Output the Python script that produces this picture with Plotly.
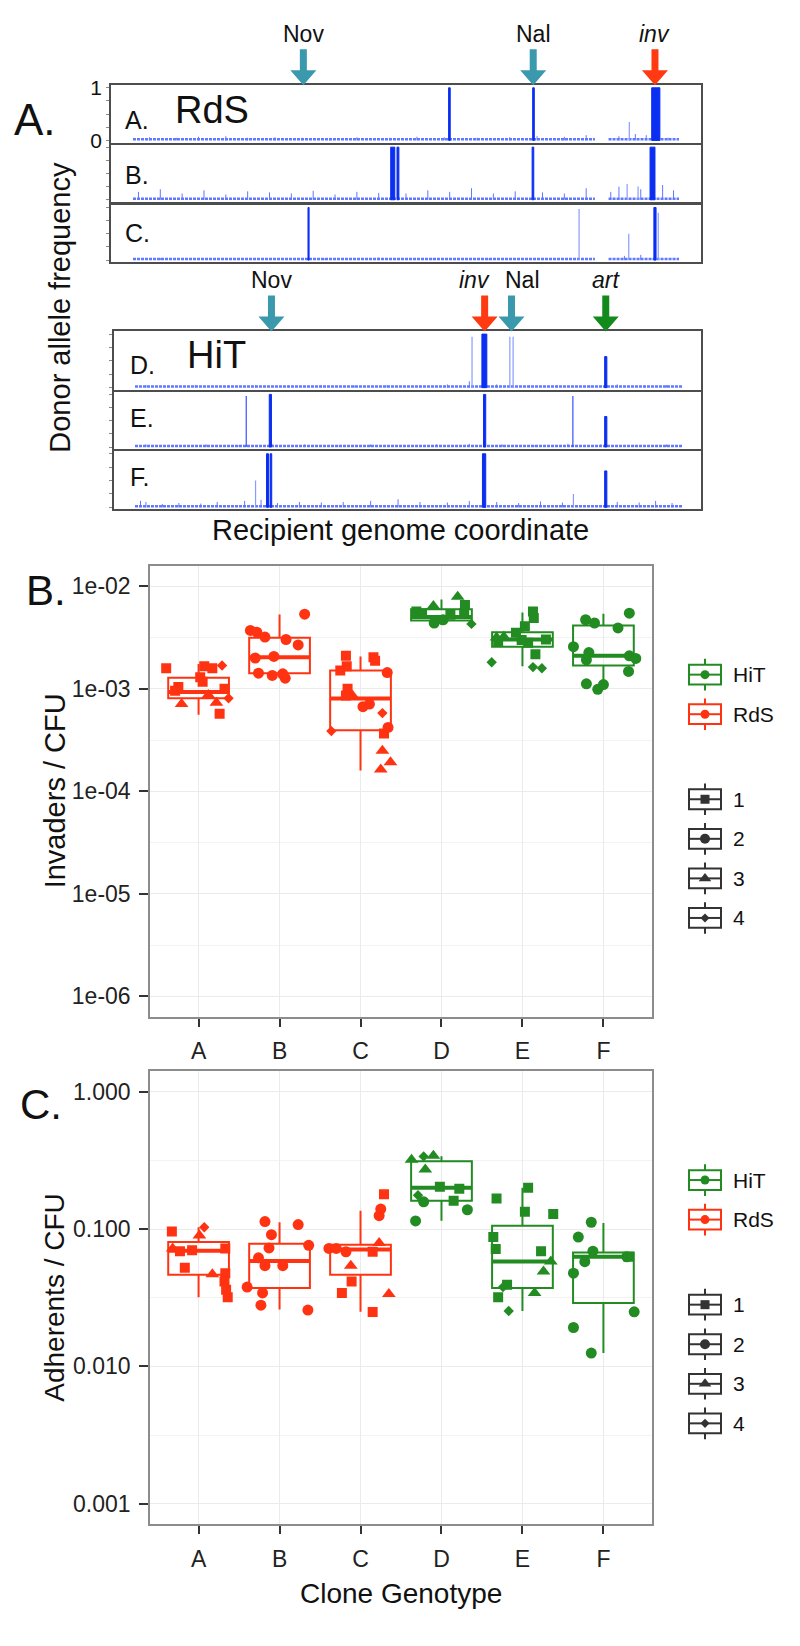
import plotly.graph_objects as go

W, H = 800, 1646
def fx(x): return x / W
def fy(y): return 1 - y / H

FONT = "Liberation Sans, Arial, sans-serif"

# ---------------- Panel A data: donor allele frequency along recipient genome (fraction) -------------
A_seg_start = [0.578, 0.732, 0.950]
A_seg_end = [0.581, 0.735, 0.965]
A_seg_freq = [1.0, 1.0, 1.0]
A_thin_pos = [0.909]
A_thin_freq = [0.35]
A_noise_pos = [0.03, 0.08, 0.12, 0.17, 0.21, 0.26, 0.31, 0.36, 0.41, 0.47, 0.52, 0.57, 0.63, 0.69, 0.74, 0.79, 0.83, 0.89, 0.92, 0.94, 0.98]
A_noise_freq = [0.06, 0.05, 0.07, 0.08, 0.05, 0.06, 0.05, 0.04, 0.06, 0.05, 0.07, 0.06, 0.05, 0.06, 0.08, 0.07, 0.10, 0.08, 0.12, 0.10, 0.05]

B_seg_start = [0.472, 0.4835, 0.731, 0.947]
B_seg_end = [0.4795, 0.487, 0.734, 0.956]
B_seg_freq = [1.0, 1.0, 1.0, 1.0]
B_thin_pos = [0.905, 0.925]
B_thin_freq = [0.30, 0.25]
B_noise_pos = [0.01, 0.05, 0.09, 0.13, 0.17, 0.21, 0.25, 0.29, 0.33, 0.37, 0.41, 0.45, 0.50, 0.54, 0.58, 0.62, 0.66, 0.70, 0.75, 0.79, 0.83, 0.875, 0.89, 0.93, 0.97, 0.99]
B_noise_freq = [0.15, 0.20, 0.12, 0.18, 0.10, 0.16, 0.14, 0.12, 0.17, 0.10, 0.15, 0.13, 0.12, 0.18, 0.15, 0.22, 0.12, 0.16, 0.14, 0.12, 0.22, 0.15, 0.25, 0.20, 0.28, 0.18]

C_seg_start = [0.3205, 0.954]
C_seg_end = [0.3225, 0.958]
C_seg_freq = [1.0, 1.0]
C_thin_pos = [0.817, 0.962, 0.908]
C_thin_freq = [0.97, 0.90, 0.50]
C_noise_pos = [0.05, 0.15, 0.25, 0.35, 0.45, 0.55, 0.65, 0.75, 0.90, 0.93]
C_noise_freq = [0.04, 0.03, 0.04, 0.03, 0.05, 0.04, 0.03, 0.04, 0.08, 0.10]

D_seg_start = [0.633, 0.857]
D_seg_end = [0.642, 0.861]
D_seg_freq = [1.0, 0.58]
D_thin_pos = [0.615, 0.684, 0.690]
D_thin_freq = [0.95, 0.95, 0.95]
D_noise_pos = [0.02, 0.06, 0.11, 0.17, 0.22, 0.28, 0.34, 0.40, 0.46, 0.52, 0.57, 0.61, 0.66, 0.72, 0.77, 0.83, 0.88, 0.93, 0.97]
D_noise_freq = [0.05, 0.04, 0.05, 0.04, 0.05, 0.04, 0.05, 0.04, 0.05, 0.04, 0.06, 0.12, 0.06, 0.05, 0.05, 0.04, 0.06, 0.04, 0.05]

E_seg_start = [0.245, 0.636, 0.857]
E_seg_end = [0.249, 0.640, 0.861]
E_seg_freq = [1.0, 1.0, 0.58]
E_thin_pos = [0.203, 0.799]
E_thin_freq = [0.97, 0.97]
E_noise_pos = [0.02, 0.07, 0.13, 0.19, 0.25, 0.31, 0.37, 0.43, 0.49, 0.55, 0.61, 0.67, 0.73, 0.79, 0.85, 0.91, 0.97]
E_noise_freq = [0.05, 0.04, 0.05, 0.04, 0.06, 0.05, 0.04, 0.05, 0.04, 0.05, 0.06, 0.05, 0.04, 0.06, 0.05, 0.04, 0.05]

F_seg_start = [0.240, 0.2465, 0.634, 0.857]
F_seg_end = [0.2435, 0.2495, 0.640, 0.861]
F_seg_freq = [1.0, 1.0, 1.0, 0.68]
F_thin_pos = [0.220, 0.800]
F_thin_freq = [0.50, 0.25]
F_noise_pos = [0.01, 0.02, 0.05, 0.08, 0.12, 0.15, 0.20, 0.23, 0.26, 0.30, 0.34, 0.38, 0.43, 0.48, 0.52, 0.57, 0.61, 0.66, 0.70, 0.74, 0.78, 0.88, 0.92, 0.95, 0.98]
F_noise_freq = [0.12, 0.10, 0.06, 0.08, 0.07, 0.10, 0.12, 0.14, 0.08, 0.10, 0.09, 0.10, 0.12, 0.15, 0.10, 0.09, 0.12, 0.10, 0.08, 0.11, 0.09, 0.10, 0.09, 0.12, 0.08]

noise_floor = 0.02
RdS_covered_start = [0.0, 0.871]
RdS_covered_end = [0.846, 1.0]
HiT_covered_start = [0.0]
HiT_covered_end = [1.0]

RdS_marker_names = ["Nov", "Nal", "<i>inv</i>"]
RdS_marker_pos = [0.312, 0.733, 0.956]
RdS_marker_kind = ["res", "res", "inv"]
HiT_marker_names = ["Nov", "<i>inv</i>", "Nal", "<i>art</i>"]
HiT_marker_pos = [0.249, 0.638, 0.687, 0.859]
HiT_marker_kind = ["res", "inv", "res", "art"]

strip_labels = ["A.", "B.", "C.", "D.", "E.", "F."]

# ---------------- Panel B data: Invaders / CFU ----------------
cats = ["A", "B", "C", "D", "E", "F"]
cat_strain = ["RdS", "RdS", "RdS", "HiT", "HiT", "HiT"]

inv_group = (["A"] * 14 + ["B"] * 12 + ["C"] * 18 + ["D"] * 10 + ["E"] * 14 + ["F"] * 13)
inv_value = [
    1.59e-3, 1.04e-3, 9.6e-4, 7.1e-4, 1.30e-3, 1.66e-3, 1.59e-3, 1.69e-3, 8.7e-4, 7.3e-4, 5.7e-4, 1.0e-3, 8.1e-4, 1.17e-3,
    3.71e-3, 3.57e-3, 3.2e-3, 2.0e-3, 2.07e-3, 3.03e-3, 2.68e-3, 5.35e-3, 1.42e-3, 1.35e-3, 1.40e-3, 1.27e-3,
    2.10e-3, 1.51e-3, 1.66e-3, 2.03e-3, 1.88e-3, 1.0e-3, 8.6e-4, 8.6e-4, 6.7e-4, 7.1e-4, 1.44e-3, 3.87e-4, 5.8e-4, 4.2e-4, 3.67e-4, 2.49e-4, 1.92e-4, 1.63e-4,
    5.68e-3, 5.47e-3, 6.43e-3, 4.39e-3, 7.91e-3, 6.58e-3, 5.47e-3, 4.30e-3, 4.72e-3, 5.27e-3,
    1.82e-3, 3.16e-3, 3.22e-3, 4.07e-3, 5.68e-3, 4.9e-3, 2.18e-3, 2.82e-3, 1.63e-3, 1.59e-3, 3.03e-3, 3.52e-3, 2.99e-3, 2.9e-3,
    4.72e-3, 4.39e-3, 5.47e-3, 3.93e-3, 2.58e-3, 2.26e-3, 1.92e-3, 2.10e-3, 1.98e-3, 1.48e-3, 1.12e-3, 9.9e-4, 1.10e-3,
]
inv_jitter = [
    -0.40, -0.25, -0.29, -0.21, 0.02, 0.07, 0.17, 0.29, 0.12, 0.22, 0.26, 0.32, 0.37, 0.05,
    -0.36, -0.28, -0.18, -0.30, -0.07, 0.08, 0.23, 0.31, -0.26, -0.09, 0.04, 0.07,
    -0.18, -0.25, -0.17, 0.16, 0.18, -0.16, -0.18, -0.10, 0.03, 0.11, 0.33, -0.36, 0.27, 0.34, 0.29, 0.27, 0.37, 0.25,
    -0.31, -0.24, -0.10, -0.09, 0.20, 0.29, 0.28, 0.37, 0.02, 0.11,
    -0.38, -0.32, -0.23, 0.03, 0.13, 0.14, 0.16, 0.07, 0.13, 0.24, 0.29, -0.08, -0.01, -0.30,
    -0.22, -0.11, 0.32, 0.18, -0.37, -0.18, -0.21, 0.32, 0.40, 0.31, -0.21, -0.07, 0.00,
]
inv_rep = [
    1, 1, 1, 3, 1, 1, 1, 4, 3, 3, 1, 1, 4, 1,
    2, 2, 2, 2, 2, 2, 2, 2, 2, 2, 2, 2,
    1, 1, 1, 1, 1, 1, 1, 3, 2, 2, 2, 4, 4, 2, 1, 3, 3, 3,
    1, 1, 3, 2, 3, 1, 1, 4, 2, 1,
    4, 3, 3, 1, 1, 1, 1, 1, 4, 4, 1, 1, 1, 1,
    2, 2, 2, 2, 2, 2, 2, 2, 2, 2, 2, 2, 2,
]
inv_q1 = [8.1e-4, 1.42e-3, 3.95e-4, 4.63e-3, 2.58e-3, 1.69e-3]
inv_median = [9.3e-4, 2.03e-3, 8.07e-4, 5.01e-3, 3.03e-3, 2.10e-3]
inv_q3 = [1.28e-3, 3.15e-3, 1.51e-3, 5.97e-3, 3.57e-3, 4.14e-3]
inv_lowerwhisker = [5.6e-4, 1.27e-3, 1.6e-4, 4.2e-3, 1.66e-3, 1.12e-3]
inv_upperwhisker = [1.75e-3, 5.3e-3, 2.07e-3, 7.45e-3, 5.55e-3, 5.4e-3]

# ---------------- Panel C data: Adherents / CFU ----------------
adh_group = (["A"] * 13 + ["B"] * 12 + ["C"] * 13 + ["D"] * 11 + ["E"] * 14 + ["F"] * 10)
adh_value = [
    0.0962, 0.1033, 0.0899, 0.0723, 0.069, 0.0703, 0.0524, 0.0469, 0.0723, 0.0478, 0.0416, 0.0362, 0.0319,
    0.1135, 0.108, 0.091, 0.073, 0.0762, 0.0618, 0.0542, 0.0542, 0.0378, 0.0343, 0.0279, 0.0257,
    0.1795, 0.140, 0.1253, 0.0723, 0.0723, 0.0792, 0.0684, 0.0684, 0.0542, 0.0416, 0.0343, 0.0337, 0.0249,
    0.3206, 0.3388, 0.3428, 0.2716, 0.1766, 0.1581, 0.2037, 0.1972, 0.1607, 0.1384, 0.1148,
    0.1671, 0.2005, 0.134, 0.1288, 0.0875, 0.0715, 0.069, 0.058, 0.0491, 0.0394, 0.0378, 0.0343, 0.0319, 0.0253,
    0.1122, 0.0875, 0.069, 0.0579, 0.0478, 0.0629, 0.025, 0.0192, 0.0125, 0.063,
]
adh_jitter = [
    -0.33, 0.07, 0.01, -0.32, -0.23, -0.08, -0.17, 0.17, 0.33, 0.33, 0.32, 0.34, 0.36,
    -0.18, 0.23, -0.10, -0.13, 0.36, -0.26, -0.18, 0.04, -0.40, -0.21, -0.23, 0.35,
    0.29, 0.25, 0.23, -0.39, -0.30, 0.23, 0.15, -0.18, -0.12, -0.11, -0.23, 0.35, 0.15,
    -0.37, -0.22, -0.10, -0.20, -0.29, -0.22, -0.02, 0.22, 0.15, 0.32, -0.32,
    -0.32, 0.07, 0.03, 0.38, -0.36, -0.33, 0.23, 0.35, 0.26, -0.19, -0.24, 0.15, -0.30, -0.17,
    -0.15, -0.31, -0.13, -0.23, -0.37, 0.29, 0.38, -0.37, -0.15, 0.31,
]
adh_rep = [
    1, 4, 3, 3, 1, 1, 1, 3, 1, 1, 1, 1, 1,
    2, 2, 2, 2, 2, 2, 2, 2, 2, 2, 2, 2,
    1, 2, 2, 2, 2, 3, 1, 2, 3, 1, 1, 3, 1,
    3, 4, 3, 3, 4, 2, 1, 1, 1, 2, 2,
    1, 1, 1, 1, 1, 1, 1, 3, 3, 1, 4, 3, 1, 4,
    2, 2, 2, 2, 2, 2, 2, 2, 2, 1,
]
adh_q1 = [0.0465, 0.0372, 0.0465, 0.161, 0.0372, 0.029]
adh_median = [0.0696, 0.0585, 0.071, 0.200, 0.058, 0.0629]
adh_q3 = [0.0806, 0.0784, 0.077, 0.312, 0.106, 0.0676]
adh_lowerwhisker = [0.0319, 0.026, 0.025, 0.115, 0.0253, 0.0125]
adh_upperwhisker = [0.103, 0.112, 0.136, 0.339, 0.200, 0.111]

# ---------------- styles ----------------
BLUE = "#0a2ef2"
BLUE_FAINT = "#8a9bff"
BLUE_NOISE = "#6178ff"
ARROW_COL = {"res": "#3a99ad", "inv": "#ff3a12", "art": "#138a1c"}
STRAIN_COL = {"RdS": "#ff3311", "HiT": "#228b22"}
REP_SYM = {1: "square", 2: "circle", 3: "triangle-up", 4: "diamond"}
REP_SIZE = {1: 10, 2: 11, 3: 12, 4: 8}

fig = go.Figure()

strips = [
    (A_seg_start, A_seg_end, A_seg_freq, A_thin_pos, A_thin_freq, A_noise_pos, A_noise_freq, RdS_covered_start, RdS_covered_end),
    (B_seg_start, B_seg_end, B_seg_freq, B_thin_pos, B_thin_freq, B_noise_pos, B_noise_freq, RdS_covered_start, RdS_covered_end),
    (C_seg_start, C_seg_end, C_seg_freq, C_thin_pos, C_thin_freq, C_noise_pos, C_noise_freq, RdS_covered_start, RdS_covered_end),
    (D_seg_start, D_seg_end, D_seg_freq, D_thin_pos, D_thin_freq, D_noise_pos, D_noise_freq, HiT_covered_start, HiT_covered_end),
    (E_seg_start, E_seg_end, E_seg_freq, E_thin_pos, E_thin_freq, E_noise_pos, E_noise_freq, HiT_covered_start, HiT_covered_end),
    (F_seg_start, F_seg_end, F_seg_freq, F_thin_pos, F_thin_freq, F_noise_pos, F_noise_freq, HiT_covered_start, HiT_covered_end),
]
strip_px = [(77, 135), (137, 195), (198, 256), (326, 385), (387, 445), (447, 506)]
strip_label_y = [112, 168, 226, 360, 414, 473]
YR = [-0.04, 1.05]

def vlines(pos, h):
    xs, ys = [], []
    for p, v in zip(pos, h):
        xs += [p, p, None]
        ys += [0, v, None]
    return xs, ys

for k, (ss, se, sf, tp, tf, npos, nf, cs, ce) in enumerate(strips):
    n = k + 1
    xa = "x" if n == 1 else f"x{n}"
    ya = "y" if n == 1 else f"y{n}"
    bx, by = [], []
    for a, b in zip(cs, ce):
        bx += [a, b, None]
        by += [noise_floor, noise_floor, None]
    fig.add_trace(go.Scatter(x=bx, y=by, mode="lines", line=dict(color=BLUE_NOISE, width=2.5, dash="3px,1px"),
                             xaxis=xa, yaxis=ya, showlegend=False, hoverinfo="skip"))
    nx, ny = vlines(npos, nf)
    fig.add_trace(go.Scatter(x=nx, y=ny, mode="lines", line=dict(color=BLUE_NOISE, width=1),
                             xaxis=xa, yaxis=ya, showlegend=False, hoverinfo="skip"))
    tx, ty = vlines(tp, tf)
    fig.add_trace(go.Scatter(x=tx, y=ty, mode="lines", line=dict(color=BLUE_FAINT if k != 4 else "#3550ff", width=1.2),
                             xaxis=xa, yaxis=ya, showlegend=False, hoverinfo="skip"))
    px_, py_ = [], []
    for a, b, v in zip(ss, se, sf):
        px_ += [a, a, b, b, a, None]
        py_ += [0, v, v, 0, 0, None]
    fig.add_trace(go.Scatter(x=px_, y=py_, mode="lines", fill="toself", fillcolor=BLUE,
                             line=dict(color=BLUE, width=1), xaxis=xa, yaxis=ya,
                             showlegend=False, hoverinfo="skip"))

layout_axes = {}
for k in range(6):
    n = k + 1
    top, bot = strip_px[k]
    if k < 3:
        xdom = [fx(111), fx(701)]
        xr = [-0.0403, 1.0403]
    else:
        xdom = [fx(114), fx(701)]
        xr = [-0.0383, 1.0328]
    xname = "xaxis" if n == 1 else f"xaxis{n}"
    yname = "yaxis" if n == 1 else f"yaxis{n}"
    layout_axes[xname] = dict(domain=xdom, range=xr, anchor="y" if n == 1 else f"y{n}",
                              showgrid=False, zeroline=False, showticklabels=False, ticks="",
                              showline=True, mirror=True, linecolor="#4d4d4d", linewidth=1.5, fixedrange=True)
    layout_axes[yname] = dict(domain=[fy(bot), fy(top)], range=YR, anchor="x" if n == 1 else f"x{n}",
                              showgrid=False, zeroline=False,
                              tickvals=[0, 0.25, 0.5, 0.75, 1],
                              ticktext=["0", "", "", "", "1"] if n == 1 else ["", "", "", "", ""],
                              ticks="outside", ticklen=3, tickcolor="#888", tickwidth=1,
                              tickfont=dict(family=FONT, size=21, color="#111"),
                              showline=True, mirror=True, linecolor="#4d4d4d", linewidth=1.5, fixedrange=True)

shapes = []
annotations = []

ARROW_PATH = "M -3.5 36 L 3.5 36 L 3.5 15 L 13 15 L 0 0 L -13 15 L -3.5 15 Z"

label_shift = {("HiT", 1): -10, ("HiT", 2): 11}
for strain, names, pos, kinds, xref, tip_y in [
        ("RdS", RdS_marker_names, RdS_marker_pos, RdS_marker_kind, "x", 77),
        ("HiT", HiT_marker_names, HiT_marker_pos, HiT_marker_kind, "x4", 326)]:
    for j, (nm, p, kd) in enumerate(zip(names, pos, kinds)):
        shapes.append(dict(type="path", xref=xref, yref="paper", xsizemode="pixel", ysizemode="pixel",
                           xanchor=p, yanchor=fy(tip_y), path=ARROW_PATH,
                           fillcolor=ARROW_COL[kd], line=dict(width=0), layer="above"))
        annotations.append(dict(x=p, xref=xref, y=fy(tip_y - 52), yref="paper", text=nm, showarrow=False,
                                xanchor="center", yanchor="middle", xshift=label_shift.get((strain, j), 0),
                                font=dict(family=FONT, size=23, color="#111")))

for k, lab in enumerate(strip_labels):
    annotations.append(dict(x=fx(123 if k < 3 else 128), y=fy(strip_label_y[k]), xref="paper", yref="paper",
                            text=lab, showarrow=False, xanchor="left", yanchor="middle",
                            font=dict(family=FONT, size=25, color="#111")))
annotations.append(dict(x=fx(173), y=fy(102), xref="paper", yref="paper", text="RdS", showarrow=False,
                        xanchor="left", yanchor="middle", font=dict(family=FONT, size=38, color="#111")))
annotations.append(dict(x=fx(185), y=fy(350), xref="paper", yref="paper", text="HiT", showarrow=False,
                        xanchor="left", yanchor="middle", font=dict(family=FONT, size=38, color="#111")))
annotations.append(dict(x=fx(60), y=fy(302), xref="paper", yref="paper", text="Donor allele frequency",
                        textangle=-90, showarrow=False, xanchor="center", yanchor="middle",
                        font=dict(family=FONT, size=29, color="#111")))
annotations.append(dict(x=fx(400), y=fy(527), xref="paper", yref="paper", text="Recipient genome coordinate",
                        showarrow=False, xanchor="center", yanchor="middle",
                        font=dict(family=FONT, size=29, color="#111")))
annotations.append(dict(x=fx(12), y=fy(112), xref="paper", yref="paper", text="A.", showarrow=False,
                        xanchor="left", yanchor="middle", font=dict(family=FONT, size=44, color="#111")))
annotations.append(dict(x=fx(24), y=fy(588), xref="paper", yref="paper", text="B.", showarrow=False,
                        xanchor="left", yanchor="middle", font=dict(family=FONT, size=42, color="#111")))
annotations.append(dict(x=fx(18), y=fy(1108), xref="paper", yref="paper", text="C.", showarrow=False,
                        xanchor="left", yanchor="middle", font=dict(family=FONT, size=42, color="#111")))

# ---------------- Panels B and C ----------------
def add_box_panel(xa, ya, grp, val, jit, rep, q1, med, q3, lo, hi):
    for i, c in enumerate(cats):
        col = STRAIN_COL[cat_strain[i]]
        fig.add_trace(go.Box(x=[i + 1], q1=[q1[i]], median=[med[i]], q3=[q3[i]],
                             lowerfence=[lo[i]], upperfence=[hi[i]], width=0.75, whiskerwidth=0,
                             orientation="v", boxpoints=False, line=dict(color=col, width=2),
                             fillcolor="rgba(255,255,255,0)", xaxis=xa, yaxis=ya,
                             showlegend=False, hoverinfo="skip"))
        fig.add_trace(go.Scatter(x=[i + 1 - 0.375, i + 1 + 0.375], y=[med[i], med[i]], mode="lines",
                                 line=dict(color=col, width=4), xaxis=xa, yaxis=ya,
                                 showlegend=False, hoverinfo="skip"))
    for strain in ["RdS", "HiT"]:
        for r in [1, 2, 3, 4]:
            idx = [k for k in range(len(grp)) if rep[k] == r and cat_strain[cats.index(grp[k])] == strain]
            if not idx:
                continue
            fig.add_trace(go.Scatter(x=[cats.index(grp[k]) + 1 + jit[k] for k in idx],
                                     y=[val[k] for k in idx], mode="markers",
                                     marker=dict(symbol=REP_SYM[r], size=REP_SIZE[r], color=STRAIN_COL[strain],
                                                 line=dict(width=0)),
                                     xaxis=xa, yaxis=ya, showlegend=False, hoverinfo="skip"))

add_box_panel("x7", "y7", inv_group, inv_value, inv_jitter, inv_rep,
              inv_q1, inv_median, inv_q3, inv_lowerwhisker, inv_upperwhisker)
add_box_panel("x8", "y8", adh_group, adh_value, adh_jitter, adh_rep,
              adh_q1, adh_median, adh_q3, adh_lowerwhisker, adh_upperwhisker)

GRID = "#ebebeb"
tickfont = dict(family=FONT, size=23, color="#222")
for n, (top, bot, yr, tv, tt, minor_v) in {
        7: (563, 1019, [-6.2, -1.8], [1e-6, 1e-5, 1e-4, 1e-3, 1e-2],
            ["1e-06", "1e-05", "1e-04", "1e-03", "1e-02"],
            [10 ** -5.5, 10 ** -4.5, 10 ** -3.5, 10 ** -2.5]),
        8: (1074, 1532, [-3.15, 0.15], [0.001, 0.01, 0.1, 1.0],
            ["0.001", "0.010", "0.100", "1.000"],
            [10 ** -2.5, 10 ** -1.5, 10 ** -0.5])}.items():
    layout_axes[f"xaxis{n}"] = dict(domain=[fx(150), fx(652)], range=[0.4, 6.6], anchor=f"y{n}",
                                    tickvals=[1, 2, 3, 4, 5, 6], ticktext=cats,
                                    ticks="outside", ticklen=8, tickwidth=2, tickcolor="#333",
                                    ticklabelstandoff=5, tickfont=tickfont,
                                    showgrid=True, gridcolor=GRID, gridwidth=1.2, zeroline=False,
                                    showline=True, mirror=True, linecolor="#8c8c8c", linewidth=1.5,
                                    fixedrange=True)
    layout_axes[f"yaxis{n}"] = dict(domain=[fy(bot), fy(top)], type="log", range=yr, anchor=f"x{n}",
                                    tickvals=tv, ticktext=tt, ticks="outside", ticklen=9, tickwidth=2,
                                    tickcolor="#333", ticklabelstandoff=4, tickfont=tickfont,
                                    showgrid=True, gridcolor=GRID, gridwidth=1.2, zeroline=False,
                                    minor=dict(tickvals=minor_v, ticks="", showgrid=True,
                                               gridcolor="#f3f3f3", gridwidth=1),
                                    showline=True, mirror=True, linecolor="#8c8c8c", linewidth=1.5,
                                    fixedrange=True)

annotations.append(dict(x=fx(55), y=fy(791), xref="paper", yref="paper", text="Invaders / CFU",
                        textangle=-90, showarrow=False, xanchor="center", yanchor="middle",
                        font=dict(family=FONT, size=29, color="#111")))
annotations.append(dict(x=fx(55), y=fy(1303), xref="paper", yref="paper", text="Adherents / CFU",
                        textangle=-90, showarrow=False, xanchor="center", yanchor="middle",
                        font=dict(family=FONT, size=28, color="#111")))
annotations.append(dict(x=fx(401), y=fy(1602), xref="paper", yref="paper", text="Clone Genotype",
                        showarrow=False, xanchor="center", yanchor="middle",
                        font=dict(family=FONT, size=28, color="#111")))

# ---------------- legends (drawn on an overlay axis in pixel units) ----------------
layout_axes["xaxis9"] = dict(domain=[fx(680), 1.0], range=[680, 800], anchor="y9", visible=False, fixedrange=True)
layout_axes["yaxis9"] = dict(domain=[0, 1], range=[H, 0], anchor="x9", visible=False, fixedrange=True)

legend_strains = ["HiT", "RdS"]
legend_reps = [1, 2, 3, 4]
for top in [563, 1074]:
    items = []
    for j, s in enumerate(legend_strains):
        items.append((top + 110 + 40 * j, STRAIN_COL[s], "circle", 9, s))
    for j, r in enumerate(legend_reps):
        items.append((top + 236 + 40 * j, "#333333", REP_SYM[r], REP_SIZE[r] - 1, str(r)))
    for cy, col, sym, sz, txt in items:
        cx = 705
        shapes.append(dict(type="rect", xref="x9", yref="y9", x0=cx - 16, x1=cx + 16, y0=cy - 10, y1=cy + 10,
                           line=dict(color=col, width=2), fillcolor="rgba(0,0,0,0)"))
        shapes.append(dict(type="line", xref="x9", yref="y9", x0=cx - 16, x1=cx + 16, y0=cy, y1=cy,
                           line=dict(color=col, width=2)))
        shapes.append(dict(type="line", xref="x9", yref="y9", x0=cx, x1=cx, y0=cy - 16, y1=cy - 10,
                           line=dict(color=col, width=2)))
        shapes.append(dict(type="line", xref="x9", yref="y9", x0=cx, x1=cx, y0=cy + 10, y1=cy + 16,
                           line=dict(color=col, width=2)))
        fig.add_trace(go.Scatter(x=[cx], y=[cy], mode="markers", marker=dict(symbol=sym, size=sz, color=col),
                                 xaxis="x9", yaxis="y9", showlegend=False, hoverinfo="skip"))
        annotations.append(dict(x=fx(731), y=fy(cy), xref="paper", yref="paper", text=txt, showarrow=False,
                                xanchor="left", yanchor="middle", font=dict(family=FONT, size=21, color="#111")))

fig.update_layout(width=W, height=H, margin=dict(l=0, r=0, t=0, b=0),
                  paper_bgcolor="white", plot_bgcolor="rgba(0,0,0,0)",
                  showlegend=False, shapes=shapes, annotations=annotations, **layout_axes)

fig.write_html("out.html", config={"displayModeBar": False},
               post_script="document.body.style.margin='0px';")
